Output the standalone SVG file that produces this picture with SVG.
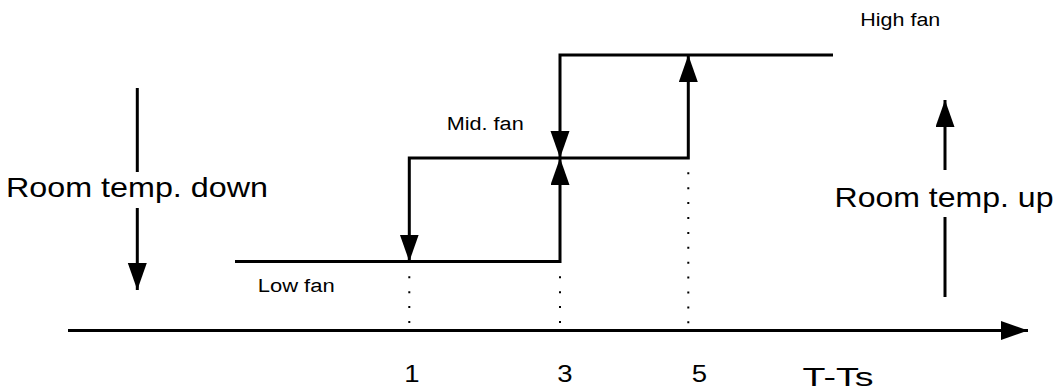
<svg xmlns="http://www.w3.org/2000/svg" width="1057" height="390" viewBox="0 0 1057 390">
  <defs>
    <marker id="arrow" markerUnits="userSpaceOnUse" markerWidth="28" markerHeight="20" refX="27" refY="9.5" orient="auto">
      <path d="M0,0 L27,9.5 L0,19 Z" fill="#000"/>
    </marker>
    <style>
      .ln { fill: none; stroke: #000; stroke-width: 3; }
      .arr { marker-end: url(#arrow); }
      .dot { fill: none; stroke: #000; stroke-width: 2; stroke-dasharray: 2 12.9; }
      text { font-family: "Liberation Sans", Arial, sans-serif; fill: #000; }
      .big { font-size: 28px; }
      .mid { font-size: 18px; }
      .num { font-size: 24px; text-anchor: middle; }
    </style>
  </defs>
  <rect width="1057" height="390" fill="#fff"/>

  <g id="connectors">
    <path id="axis" class="ln arr" d="M68,330.5 H1028"/>
    <path id="up-low-mid" class="ln arr" d="M235,261.5 H560 V158"/>
    <path id="up-mid-high" class="ln arr" d="M560,158 H688.3 V55"/>
    <path id="down-high-mid" class="ln arr" d="M833,55 H560 V158"/>
    <path id="down-mid-low" class="ln arr" d="M560,158 H409.3 V261.5"/>
    <path id="dot1" class="dot" d="M409.3,276.3 V326"/>
    <path id="dot3" class="dot" d="M560,276.3 V326"/>
    <path id="dot5" class="dot" d="M688.3,172.3 V326"/>
    <path id="down-arrow-top" class="ln" d="M137.3,88 V172"/>
    <path id="down-arrow-bottom" class="ln arr" d="M137.3,208 V290"/>
    <path id="up-arrow-bottom" class="ln" d="M945,297 V217"/>
    <path id="up-arrow-top" class="ln arr" d="M945,170 V100"/>
  </g>

  <g id="label-room-down"><text class="big" x="6" y="197.3" textLength="262" lengthAdjust="spacingAndGlyphs">Room temp. down</text></g>
  <g id="label-room-up"><text class="big" x="834.5" y="206.7" textLength="219" lengthAdjust="spacingAndGlyphs">Room temp. up</text></g>
  <g id="label-mid-fan"><text class="mid" x="446.7" y="130" textLength="77" lengthAdjust="spacingAndGlyphs">Mid. fan</text></g>
  <g id="label-low-fan"><text class="mid" x="257.7" y="291.7" textLength="77" lengthAdjust="spacingAndGlyphs">Low fan</text></g>
  <g id="label-high-fan"><text class="mid" x="860.3" y="25.7" textLength="80" lengthAdjust="spacingAndGlyphs">High fan</text></g>
  <g id="tick-1"><text class="num" x="412" y="382.3" textLength="15.3" lengthAdjust="spacingAndGlyphs">1</text></g>
  <g id="tick-3"><text class="num" x="565" y="382.3" textLength="15.3" lengthAdjust="spacingAndGlyphs">3</text></g>
  <g id="tick-5"><text class="num" x="699.5" y="382.3" textLength="15.3" lengthAdjust="spacingAndGlyphs">5</text></g>
  <g id="label-axis"><text x="802.5" y="385.5" font-size="26" textLength="71" lengthAdjust="spacingAndGlyphs">T-Ts</text></g>
</svg>
